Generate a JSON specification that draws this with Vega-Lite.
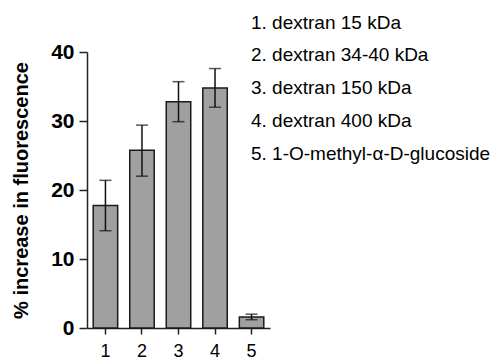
{
  "$schema": "https://vega.github.io/schema/vega-lite/v6.json",
  "autosize": "none",
  "width": 183,
  "height": 276,
  "padding": {"left": 87, "top": 52, "right": 233, "bottom": 34},
  "background": "white",
  "config": {"view": {"stroke": null}, "font": "Liberation Sans"},
  "data": {"values": [
    {"group": "1", "name": "1. dextran 15 kDa", "mean": 17.75, "lo": 14.1, "hi": 21.4},
    {"group": "2", "name": "2. dextran 34-40 kDa", "mean": 25.75, "lo": 22.0, "hi": 29.4},
    {"group": "3", "name": "3. dextran 150 kDa", "mean": 32.8, "lo": 29.9, "hi": 35.7},
    {"group": "4", "name": "4. dextran 400 kDa", "mean": 34.8, "lo": 32.0, "hi": 37.6},
    {"group": "5", "name": "5. 1-O-methyl-α-D-glucoside", "mean": 1.6, "lo": 1.2, "hi": 2.0}
  ]},
  "layer": [
    {
      "mark": {"type": "bar", "stroke": "#1a1a1a", "strokeWidth": 1.5},
      "encoding": {
        "x": {
          "field": "group", "type": "nominal",
          "scale": {"paddingInner": 0.33, "paddingOuter": 0.17},
          "axis": {"title": null, "labelAngle": 0, "labelFontSize": 18, "labelColor": "black", "labelPadding": 8, "tickSize": 6, "tickWidth": 1.5, "tickColor": "#222", "domainColor": "#222", "domainWidth": 1.5}
        },
        "y": {
          "field": "mean", "type": "quantitative",
          "scale": {"domain": [0, 40]},
          "axis": {"values": [0, 10, 20, 30, 40], "grid": false, "title": "% increase in fluorescence", "titleFontSize": 20, "titleFontWeight": "bold", "titleColor": "black", "titlePadding": 19, "labelFontSize": 21, "labelFontWeight": "bold", "labelColor": "black", "labelPadding": 5, "tickSize": 8, "tickWidth": 1.5, "tickColor": "#222", "domainColor": "#222", "domainWidth": 1.5}
        },
        "color": {
          "field": "name", "type": "nominal",
          "scale": {"range": ["#a0a0a0", "#a0a0a0", "#a0a0a0", "#a0a0a0", "#a0a0a0"]},
          "legend": {"orient": "none", "legendX": 145, "legendY": -39, "title": null, "symbolOpacity": 0, "symbolStrokeWidth": 0, "symbolSize": 1, "labelFontSize": 19, "labelColor": "black", "labelLimit": 0, "labelOffset": 0, "rowPadding": 12.8, "padding": 0}
        }
      }
    },
    {
      "mark": {"type": "rule", "color": "#111", "strokeWidth": 1.5},
      "encoding": {
        "x": {"field": "group", "type": "nominal"},
        "y": {"field": "lo", "type": "quantitative"},
        "y2": {"field": "hi"}
      }
    },
    {
      "mark": {"type": "tick", "color": "#111", "thickness": 1.5, "size": 12},
      "encoding": {
        "x": {"field": "group", "type": "nominal"},
        "y": {"field": "lo", "type": "quantitative"}
      }
    },
    {
      "mark": {"type": "tick", "color": "#111", "thickness": 1.5, "size": 12},
      "encoding": {
        "x": {"field": "group", "type": "nominal"},
        "y": {"field": "hi", "type": "quantitative"}
      }
    }
  ]
}
